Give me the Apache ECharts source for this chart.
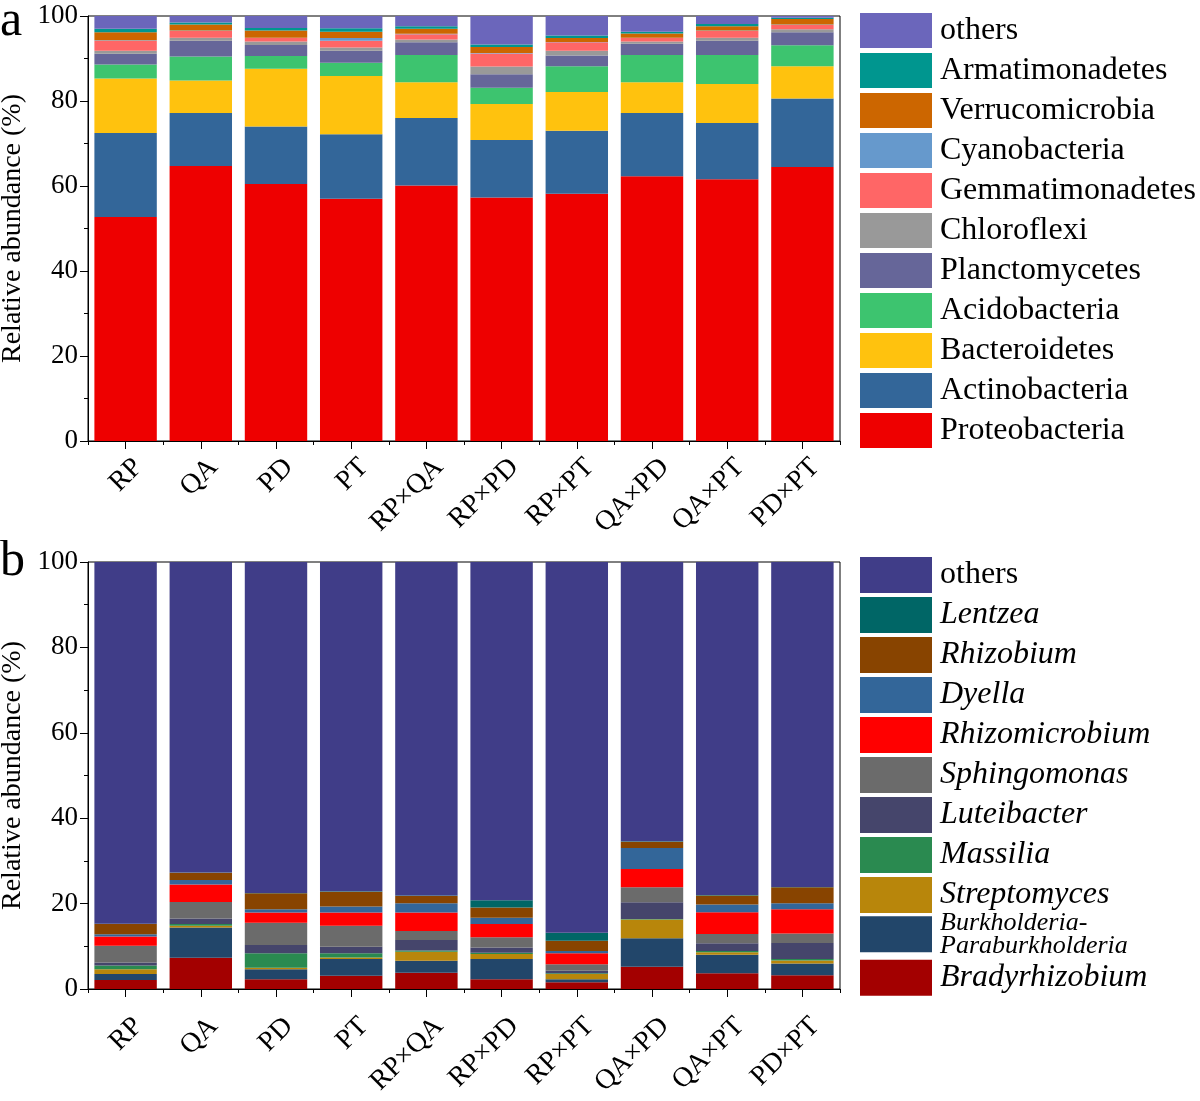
<!DOCTYPE html>
<html>
<head>
<meta charset="utf-8">
<script src="https://cdn.jsdelivr.net/npm/echarts@6/dist/echarts.min.js"></script>
<style>
  html, body { margin: 0; padding: 0; background: #fff; }
  #chartA { position: absolute; left: 0; top: 0; width: 1200px; height: 540px; }
  #chartB { position: absolute; left: 0; top: 540px; width: 1200px; height: 561px; }
</style>
</head>
<body>
<div id="chartA"></div>
<div id="chartB"></div>
<script>
var categories = ['RP', 'QA', 'PD', 'PT', 'RP×QA', 'RP×PD', 'RP×PT', 'QA×PD', 'QA×PT', 'PD×PT'];

// panel a - phyla (%), bottom to top
var proteobacteria   = [52.7, 64.7, 60.5, 57.0, 60.1, 57.3, 58.2, 62.3, 61.6, 64.5];
var actinobacteria   = [19.8, 12.5, 13.5, 15.2, 15.9, 13.5, 14.8, 14.9, 13.2, 16.1];
var bacteroidetes    = [12.8, 7.6, 13.6, 13.7, 8.4, 8.5, 9.1, 7.2, 9.2, 7.6];
var acidobacteria    = [3.3, 5.7, 3.0, 3.1, 6.4, 3.8, 6.1, 6.4, 6.8, 4.9];
var planctomycetes   = [2.5, 3.7, 2.6, 2.8, 3.0, 3.2, 2.5, 2.7, 3.4, 3.1];
var chloroflexi      = [0.7, 0.7, 0.8, 0.8, 0.7, 1.8, 1.1, 0.5, 0.7, 0.7];
var gemmatimonadetes = [2.4, 1.6, 0.8, 1.6, 1.2, 3.1, 2.0, 0.8, 1.6, 1.0];
var cyanobacteria    = [0.1, 0.1, 0.1, 0.6, 0.1, 0.1, 0.1, 0.1, 0.1, 0.1];
var verrucomicrobia  = [1.9, 1.4, 1.7, 1.5, 1.2, 1.4, 0.9, 1.0, 1.0, 1.3];
var armatimonadetes  = [0.8, 0.5, 0.6, 0.8, 0.6, 0.6, 0.6, 0.4, 0.5, 0.3];
var othersA          = [3.0, 1.5, 2.8, 2.9, 2.4, 6.7, 4.6, 3.7, 1.9, 0.4];

// panel b - genera (%), bottom to top
var bradyrhizobium = [2.1, 7.3, 2.3, 3.1, 3.8, 2.3, 1.6, 5.2, 3.7, 3.2];
var burkholderia   = [1.4, 7.1, 2.3, 3.9, 2.8, 4.7, 0.7, 6.7, 4.3, 2.8];
var streptomyces   = [1.1, 0.4, 0.4, 0.4, 2.1, 1.2, 1.2, 4.4, 0.6, 0.7];
var massilia       = [0.9, 0.4, 3.4, 1.0, 0.3, 0.3, 0.2, 0.1, 0.3, 0.3];
var luteibacter    = [0.7, 1.3, 1.9, 1.5, 2.5, 1.2, 0.6, 3.9, 1.8, 3.8];
var sphingomonas   = [3.9, 3.9, 5.2, 4.9, 2.1, 2.4, 1.5, 3.5, 2.2, 2.2];
var rhizomicrobium = [2.2, 4.1, 2.4, 3.1, 4.3, 3.1, 2.6, 4.3, 5.1, 5.7];
var dyella         = [0.5, 1.0, 0.8, 1.4, 2.2, 1.5, 0.5, 4.9, 1.8, 1.4];
var rhizobium      = [2.4, 1.7, 3.7, 3.5, 1.7, 2.4, 2.4, 1.5, 2.1, 3.7];
var lentzea        = [0.1, 0.1, 0.1, 0.1, 0.1, 1.7, 1.9, 0.1, 0.1, 0.1];
var othersB        = [84.7, 72.7, 77.5, 77.1, 78.1, 79.2, 86.8, 65.4, 78.0, 76.1];

var FONT = 'Liberation Serif';

var seriesA = [
    ['Proteobacteria', proteobacteria, '#EE0000'],
    ['Actinobacteria', actinobacteria, '#336699'],
    ['Bacteroidetes', bacteroidetes, '#FFC20E'],
    ['Acidobacteria', acidobacteria, '#3DC46F'],
    ['Planctomycetes', planctomycetes, '#666699'],
    ['Chloroflexi', chloroflexi, '#999999'],
    ['Gemmatimonadetes', gemmatimonadetes, '#FF6666'],
    ['Cyanobacteria', cyanobacteria, '#6699CC'],
    ['Verrucomicrobia', verrucomicrobia, '#CC6600'],
    ['Armatimonadetes', armatimonadetes, '#00968F'],
    ['others', othersA, '#6B66BB']
];

var seriesB = [
    ['Bradyrhizobium', bradyrhizobium, '#A30000'],
    ['Burkholderia-Paraburkholderia', burkholderia, '#22466A'],
    ['Streptomyces', streptomyces, '#B8860B'],
    ['Massilia', massilia, '#2A8A50'],
    ['Luteibacter', luteibacter, '#45456B'],
    ['Sphingomonas', sphingomonas, '#6B6B6B'],
    ['Rhizomicrobium', rhizomicrobium, '#FF0000'],
    ['Dyella', dyella, '#336699'],
    ['Rhizobium', rhizobium, '#884400'],
    ['Lentzea', lentzea, '#006666'],
    ['others', othersB, '#403D88']
];

function legendBox(names, top, itemHeight, gap, italic) {
    return {
        orient: 'vertical',
        left: 860,
        top: top,
        padding: 0,
        icon: 'rect',
        itemWidth: 72,
        itemHeight: itemHeight,
        itemGap: gap,
        selectedMode: false,
        data: names.map(function (n) {
            var item = { name: n };
            if (italic && n !== 'others') item.textStyle = { fontStyle: 'italic' };
            if (n === 'Burkholderia-Paraburkholderia') {
                item.textStyle = { fontStyle: 'italic', fontSize: 26, lineHeight: 23, padding: [5, 0, 0, 3] };
            }
            return item;
        }),
        formatter: function (name) {
            return name === 'Burkholderia-Paraburkholderia' ? 'Burkholderia-\nParaburkholderia' : name;
        },
        textStyle: { fontFamily: FONT, fontSize: 32, color: '#000', padding: [0, 0, 0, 3] }
    };
}

function buildOption(defs, letter, gridTop, gridHeight, labelMargin, legends) {
    var series = defs.map(function (d) {
        return {
            name: d[0],
            type: 'bar',
            stack: 'total',
            xAxisIndex: 0,
            barCategoryGap: '17%',
            data: d[1],
            itemStyle: { color: d[2] },
            emphasis: { disabled: true }
        };
    });
    return {
        animation: false,
        title: {
            text: letter,
            left: 0,
            top: -3,
            padding: 0,
            textStyle: { fontFamily: FONT, fontSize: 50, fontWeight: 'normal', color: '#000' }
        },
        grid: {
            left: 88, top: gridTop, width: 752, height: gridHeight,
            outerBoundsMode: 'none',
            show: true, borderColor: '#000', borderWidth: 1, backgroundColor: 'transparent'
        },
        legend: legends,
        xAxis: [{
            type: 'category',
            position: 'bottom',
            data: categories,
            axisLine: { show: true, lineStyle: { color: '#000', width: 1 } },
            axisTick: { show: true, alignWithLabel: true, length: 8, lineStyle: { color: '#000' } },
            axisLabel: {
                interval: 0, rotate: 45, margin: labelMargin,
                verticalAlign: 'top', padding: [0, -4, 0, 0],
                fontFamily: FONT, fontSize: 28, color: '#000'
            }
        }, {
            // short ticks at category boundaries
            type: 'category',
            position: 'bottom',
            data: categories,
            axisLine: { show: false },
            axisTick: { show: true, length: 4, lineStyle: { color: '#000' } },
            axisLabel: { show: false }
        }],
        yAxis: {
            type: 'value',
            min: 0, max: 100, interval: 20,
            name: 'Relative abundance (%)',
            nameLocation: 'middle',
            nameGap: 61,
            nameTextStyle: { fontFamily: FONT, fontSize: 28, color: '#000' },
            axisLine: { show: true, lineStyle: { color: '#000', width: 1 } },
            axisTick: { show: true, length: 8, lineStyle: { color: '#000' } },
            minorTick: { show: true, splitNumber: 2, length: 4, lineStyle: { color: '#000' } },
            splitLine: { show: false },
            axisLabel: { margin: 10, fontFamily: FONT, fontSize: 27, color: '#000' }
        },
        series: series
    };
}

var namesA = seriesA.map(function (d) { return d[0]; }).reverse();
var namesB = seriesB.map(function (d) { return d[0]; }).reverse();

var chartA = echarts.init(document.getElementById('chartA'));
chartA.setOption(buildOption(seriesA, 'a', 16, 425, 15, [legendBox(namesA, 13, 35, 5, false)]));

var chartB = echarts.init(document.getElementById('chartB'));
chartB.setOption(buildOption(seriesB, 'b', 22, 427, 26, [
    legendBox(namesB.slice(0, 9), 17, 36, 4, true),
    legendBox(namesB.slice(9), 368.7, 36, 0, true)
]));
</script>
</body>
</html>
